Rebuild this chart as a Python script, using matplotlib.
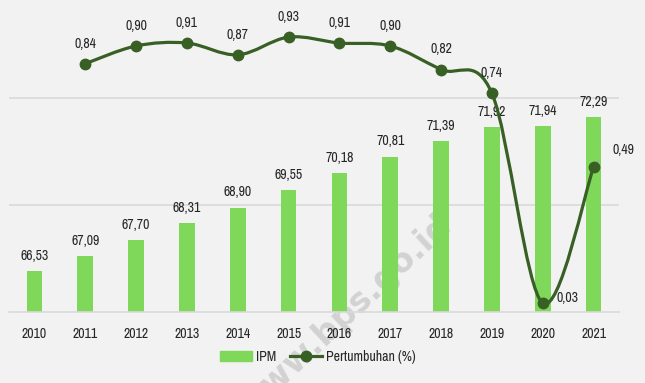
import numpy as np
import matplotlib.pyplot as plt
from matplotlib import font_manager as fm
from matplotlib.path import Path
from matplotlib.patches import PathPatch, Patch
from matplotlib.lines import Line2D

# pick a narrow font if one is installed
fonts = fm.fontManager.ttflist
narrow = [f.name for f in fonts
          if 'Narrow' in f.name or 'Condensed' in f.name]
cond = [f for f in fonts if f.stretch in ('condensed', 'semi-condensed', 'extra-condensed')]
fs = 10
if narrow:
    plt.rcParams['font.family'] = [narrow[0], 'DejaVu Sans']
elif cond:
    plt.rcParams['font.family'] = [cond[0].name, 'DejaVu Sans']
    plt.rcParams['font.stretch'] = cond[0].stretch
    fs = 9.5
else:
    plt.rcParams['font.family'] = ['DejaVu Sans']
    fs = 8.5

years = ['2010', '2011', '2012', '2013', '2014', '2015',
         '2016', '2017', '2018', '2019', '2020', '2021']
ipm = [66.53, 67.09, 67.70, 68.31, 68.90, 69.55,
       70.18, 70.81, 71.39, 71.92, 71.94, 72.29]
growth_years = years[1:]
growth = [0.84, 0.90, 0.91, 0.87, 0.93, 0.91, 0.90, 0.82, 0.74, 0.03, 0.49]

bar_color = '#80d85a'
line_color = '#385f24'
bg = '#f2f2f2'
txt = '#262626'

fig = plt.figure(figsize=(6.45, 3.83), dpi=100, facecolor=bg)
ax = fig.add_axes([9/645, 71/383, 610/645, 307/383])
ax.set_facecolor('none')
x = np.arange(len(years))
ax.bar(x, ipm, width=0.31, color=bar_color, zorder=2)
ax.set_xlim(-0.5, len(years) - 0.5)
ax.set_ylim(65, 65 + 307/26.74)
ax.set_yticks([69, 73])
ax.yaxis.grid(True, color='#d9d9d9', lw=1.2, zorder=1)
ax.set_axisbelow(True)
ax.set_xticks(x)
ax.set_xticklabels(years, fontsize=fs, color=txt)
ax.tick_params(axis='both', length=0, pad=11)
ax.tick_params(axis='y', labelleft=False)
for s in ['top', 'right', 'left']:
    ax.spines[s].set_visible(False)
ax.spines['bottom'].set_color('#d9d9d9')
ax.spines['bottom'].set_linewidth(1.2)
for xi, v in zip(x, ipm):
    ax.annotate(f'{v:.2f}'.replace('.', ','), (xi, v), xytext=(0, 11),
                textcoords='offset points', ha='center', va='center',
                fontsize=fs, color=txt)

# watermark
ax.text(345/645, 1 - 315/383, 'www.bps.go.id', transform=fig.transFigure,
        fontsize=24, rotation=43, color='#d2d2d2', ha='center', va='center',
        family='DejaVu Sans', weight='bold', stretch='normal', zorder=0.5,
        clip_on=False)

ax2 = ax.twinx()
ax2.set_ylim(0, 307/295.6)
ax2.axis('off')
gx = np.arange(1, len(years))
gy = np.array(growth)
# smoothed line (Catmull-Rom style bezier segments)
pts = np.column_stack([gx, gy])
verts = [pts[0]]
codes = [Path.MOVETO]
n = len(pts)
for i in range(n - 1):
    p0 = pts[i - 1] if i > 0 else pts[i]
    p1 = pts[i]
    p2 = pts[i + 1]
    p3 = pts[i + 2] if i + 2 < n else pts[i + 1]
    c1 = p1 + (p2 - p0) / 6
    c2 = p2 - (p3 - p1) / 6
    verts += [c1, c2, p2]
    codes += [Path.CURVE4] * 3
ax2.add_patch(PathPatch(Path(verts, codes), fill=False, ec=line_color,
                        lw=2.3, capstyle='round', zorder=3))
ax2.plot(gx, gy, 'o', color=line_color, ms=7.5, zorder=4)
for xi, v in zip(gx[:-2], gy[:-2]):
    ax2.annotate(f'{v:.2f}'.replace('.', ','), (xi, v), xytext=(0, 14.5),
                 textcoords='offset points', ha='center', va='center',
                 fontsize=fs, color=txt)
# labels with leader lines
ax2.annotate('0,03', (gx[-2], gy[-2]), xytext=(18, 3.5),
             textcoords='offset points', ha='center', va='center',
             fontsize=fs, color=txt,
             arrowprops=dict(arrowstyle='-', color='#a6a6a6', lw=1,
                             shrinkA=8, shrinkB=3))
ax2.annotate('0,49', (gx[-1], gy[-1]), xytext=(21.5, 12.5),
             textcoords='offset points', ha='center', va='center',
             fontsize=fs, color=txt,
             arrowprops=dict(arrowstyle='-', color='#a6a6a6', lw=1,
                             connectionstyle='angle,angleA=0,angleB=55,rad=0',
                             shrinkA=11, shrinkB=5))

handles = [Patch(color=bar_color, label='IPM'),
           Line2D([], [], color=line_color, lw=2.3, marker='o', ms=7.5,
                  label='Pertumbuhan (%)')]
fig.legend(handles=handles, loc='center', bbox_to_anchor=(318/645, 1 - 357/383),
           ncol=2, frameon=False, fontsize=fs, handlelength=2.3,
           handletextpad=0.3, columnspacing=1.0, labelcolor=txt)

fig.savefig('out.png', dpi=100, facecolor=bg)
